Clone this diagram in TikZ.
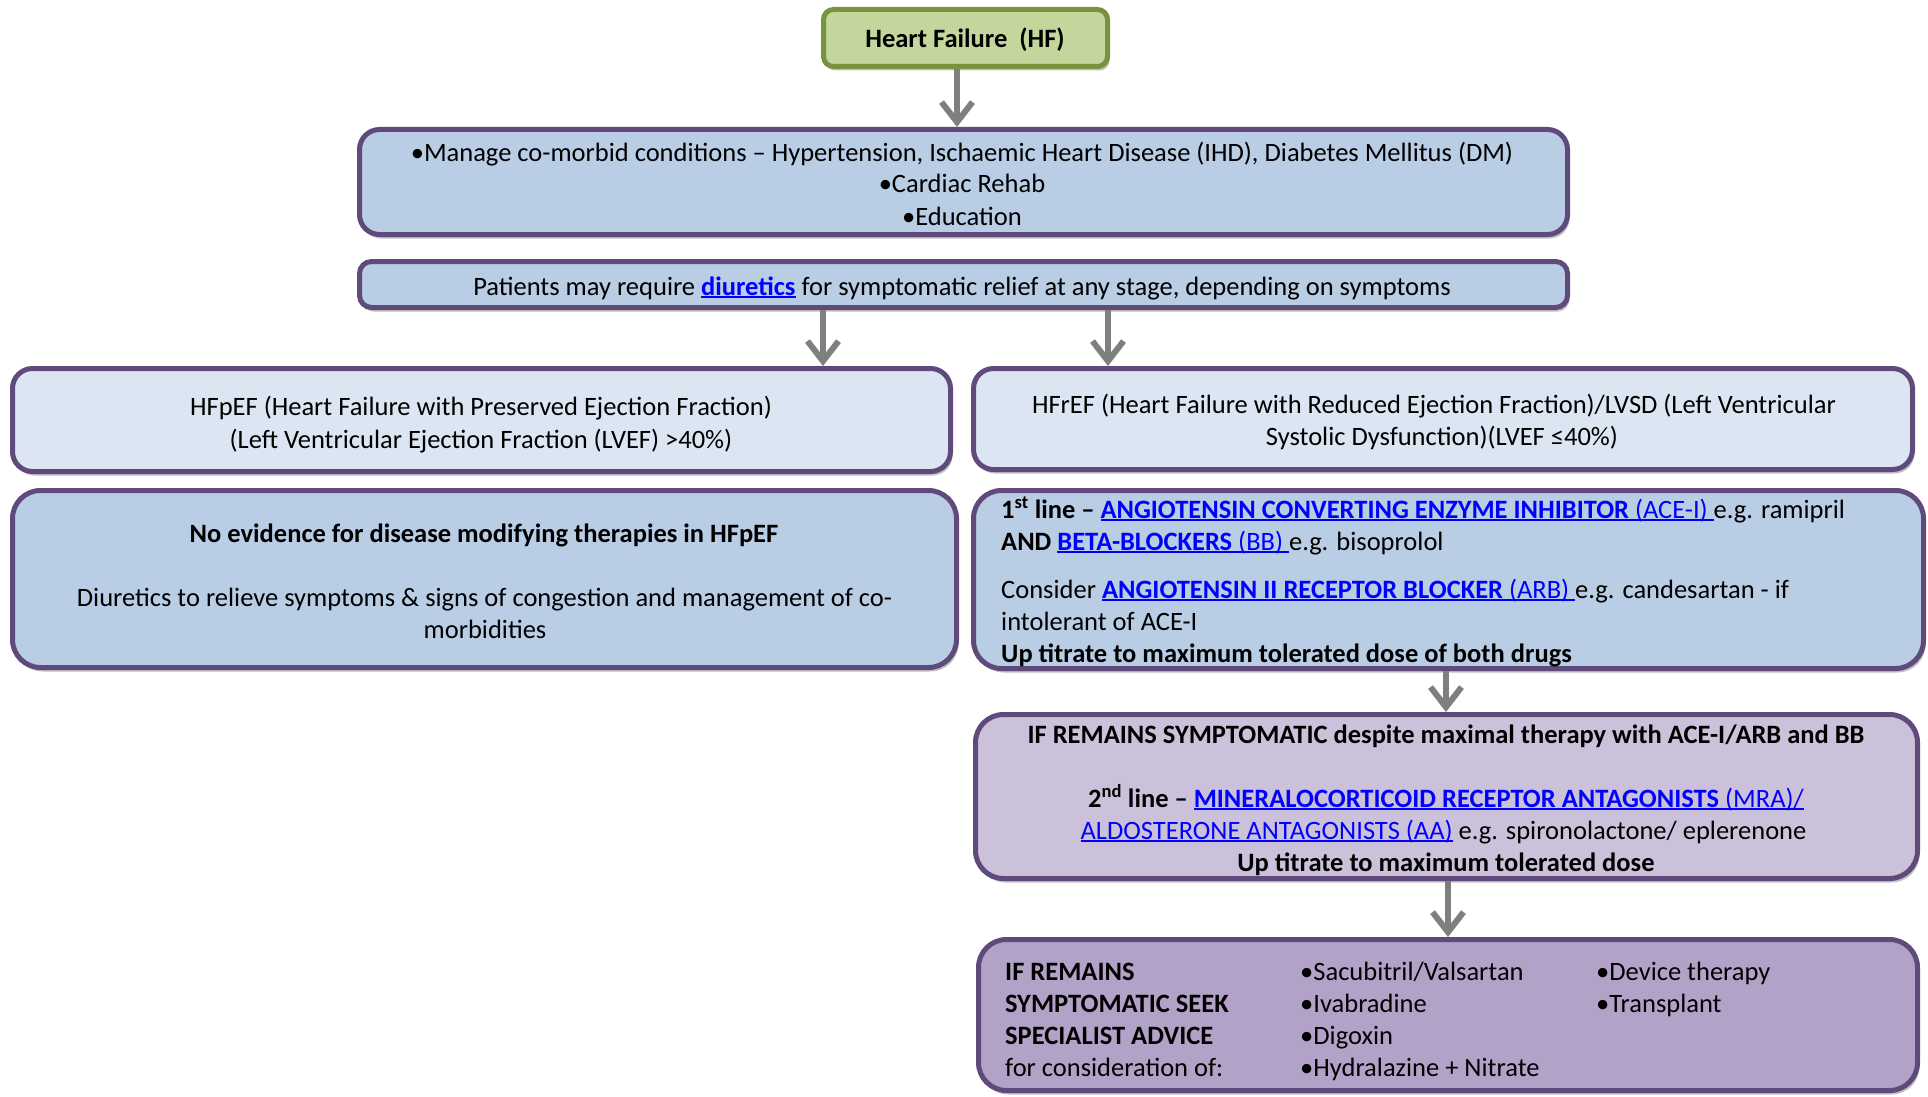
\documentclass[tikz,border=0pt]{standalone}
\usepackage{fontspec}
\setmainfont{Carlito}
\usetikzlibrary{arrows.meta,shadows}
\definecolor{purpB}{HTML}{604A7B}
\definecolor{blueF}{HTML}{B9CDE5}
\definecolor{lightF}{HTML}{DCE6F2}
\definecolor{lavF}{HTML}{CCC1DA}
\definecolor{lavBF}{HTML}{B3A2C7}
\definecolor{greenF}{HTML}{C3D69B}
\definecolor{greenB}{HTML}{77933C}
\definecolor{arrG}{HTML}{7F7F7F}
\definecolor{linkB}{HTML}{0000FF}
\newcommand{\myul}[1]{\setbox0\hbox{#1}\rlap{\rule[-3pt]{\wd0}{1.6pt}}\box0}
\newcommand{\lnk}[1]{{\color{linkB}\myul{#1}}}
\newcommand{\lnkb}[1]{{\color{linkB}\bfseries\myul{#1}}}
\newcommand{\bodyfont}{\fontsize{26.5}{32}\selectfont}
\tikzset{
  boxst/.style={draw=purpB, line width=5pt, rounded corners=20pt, inner sep=0,
    drop shadow={shadow xshift=2pt, shadow yshift=-4pt, opacity=0.25, fill=black}},
  txt/.style={inner sep=0, text height=22pt, text depth=2pt, font=\bodyfont},
  btxt/.style={txt, font=\bodyfont\bfseries},
  arr/.style={draw=arrG, line width=6pt, -{Straight Barb[length=20pt,width=31pt]}},
}
\begin{document}
\begin{tikzpicture}[x=1pt,y=-1pt]
\useasboundingbox (0,0) rectangle (1928,1097);
% boxes
\node[boxst, draw=greenB, fill=greenF, rounded corners=10pt, minimum width=284pt, minimum height=57pt] (hf) at (965.5,38) {};
\node[boxst, fill=blueF, minimum width=1208pt, minimum height=105pt] (b2) at (963.5,182) {};
\node[boxst, fill=blueF, rounded corners=12pt, minimum width=1208pt, minimum height=46pt] (b3) at (963.5,284.5) {};
\node[boxst, fill=lightF, minimum width=938pt, minimum height=103pt] (pef) at (481.5,420) {};
\node[boxst, fill=lightF, minimum width=939pt, minimum height=101pt] (ref) at (1443,419) {};
\node[boxst, fill=blueF, rounded corners=28pt, minimum width=944pt, minimum height=177pt] (noev) at (484.5,579) {};
\node[boxst, fill=blueF, rounded corners=28pt, minimum width=950pt, minimum height=178pt] (first) at (1448.5,579.5) {};
\node[boxst, fill=lavF, rounded corners=28pt, minimum width=942pt, minimum height=164pt] (ifr) at (1446.5,796.5) {};
\node[boxst, fill=lavBF, rounded corners=28pt, minimum width=939pt, minimum height=151pt] (last) at (1448,1015) {};
% arrows
\coordinate (ax1) at (957,0);
\coordinate (ax2) at (823,0);
\coordinate (ax3) at (1108,0);
\coordinate (ax4) at (1446,0);
\coordinate (ax5) at (1448,0);
\draw[arr] (hf.south -| ax1) -- (b2.north -| ax1);
\draw[arr] (b3.south -| ax2) -- (pef.north -| ax2);
\draw[arr] (b3.south -| ax3) -- (ref.north -| ax3);
\draw[arr] (first.south -| ax4) -- (ifr.north -| ax4);
\draw[arr] (ifr.south -| ax5) -- (last.north -| ax5);
% texts
\node[btxt] (thf) at (965,38) {Heart Failure\ \ (HF)};
\node[txt] (t21) at (962,151) {•Manage co-morbid conditions – Hypertension, Ischaemic Heart Disease (IHD), Diabetes Mellitus (DM)};
\node[txt] (t22) at (962,183) {•Cardiac Rehab};
\node[txt] (t23) at (962,215) {•Education};
\node[txt] (t31) at (962,285) {Patients may require \lnkb{diuretics} for symptomatic relief at any stage, depending on symptoms};
\node[txt] (tp1) at (481,405) {HFpEF (Heart Failure with Preserved Ejection Fraction)};
\node[txt] (tp2) at (481,438) {(Left Ventricular Ejection Fraction (LVEF) >40\%)};
\node[txt] (tr1) at (1434,403) {HFrEF (Heart Failure with Reduced Ejection Fraction)/LVSD (Left Ventricular};
\node[txt] (tr2) at (1442,435) {Systolic Dysfunction)(LVEF ≤40\%)};
\node[btxt] (tn1) at (484,532) {No evidence for disease modifying therapies in HFpEF};
\node[txt] (tn2) at (484.5,596) {Diuretics to relieve symptoms \& signs of congestion and management of co-};
\node[txt] (tn3) at (485,628) {morbidities};
\node[txt, anchor=west] (tf1) at (1001,508) {\textbf{1\textsuperscript{st} line –} \lnkb{ANGIOTENSIN CONVERTING ENZYME INHIBITOR}\lnk{ (ACE-I) }e.g. ramipril};
\node[txt, anchor=west] (tf2) at (1001,540) {\textbf{AND} \lnkb{BETA-BLOCKERS}\lnk{ (BB) }e.g. bisoprolol};
\node[txt, anchor=west] (tf3) at (1001,588) {Consider \lnkb{ANGIOTENSIN II RECEPTOR BLOCKER}\lnk{ (ARB) }e.g. candesartan - if};
\node[txt, anchor=west] (tf4) at (1001,620) {intolerant of ACE-I};
\node[btxt, anchor=west] (tf5) at (1001,652) {Up titrate to maximum tolerated dose of both drugs};
\node[btxt] (ti1) at (1446,733) {IF REMAINS SYMPTOMATIC despite maximal therapy with ACE-I/ARB and BB};
\node[txt] (ti2) at (1446,797) {\textbf{2\textsuperscript{nd} line –} \lnkb{MINERALOCORTICOID RECEPTOR ANTAGONISTS}\lnk{ (MRA)/}};
\node[txt] (ti3) at (1443.5,829) {\lnk{ALDOSTERONE ANTAGONISTS (AA)} e.g. spironolactone/ eplerenone};
\node[btxt] (ti4) at (1446,861) {Up titrate to maximum tolerated dose};
\node[btxt, anchor=west] (tl11) at (1005,970) {IF REMAINS};
\node[btxt, anchor=west] (tl12) at (1005,1002) {SYMPTOMATIC SEEK};
\node[btxt, anchor=west] (tl13) at (1005,1034) {SPECIALIST ADVICE};
\node[txt, anchor=west] (tl14) at (1005,1066) {for consideration of:};
\node[txt, anchor=west] (tl21) at (1300,970) {•Sacubitril/Valsartan};
\node[txt, anchor=west] (tl22) at (1300,1002) {•Ivabradine};
\node[txt, anchor=west] (tl23) at (1300,1034) {•Digoxin};
\node[txt, anchor=west] (tl24) at (1300,1066) {•Hydralazine + Nitrate};
\node[txt, anchor=west] (tl31) at (1596,970) {•Device therapy};
\node[txt, anchor=west] (tl32) at (1596,1002) {•Transplant};
\end{tikzpicture}
\end{document}
